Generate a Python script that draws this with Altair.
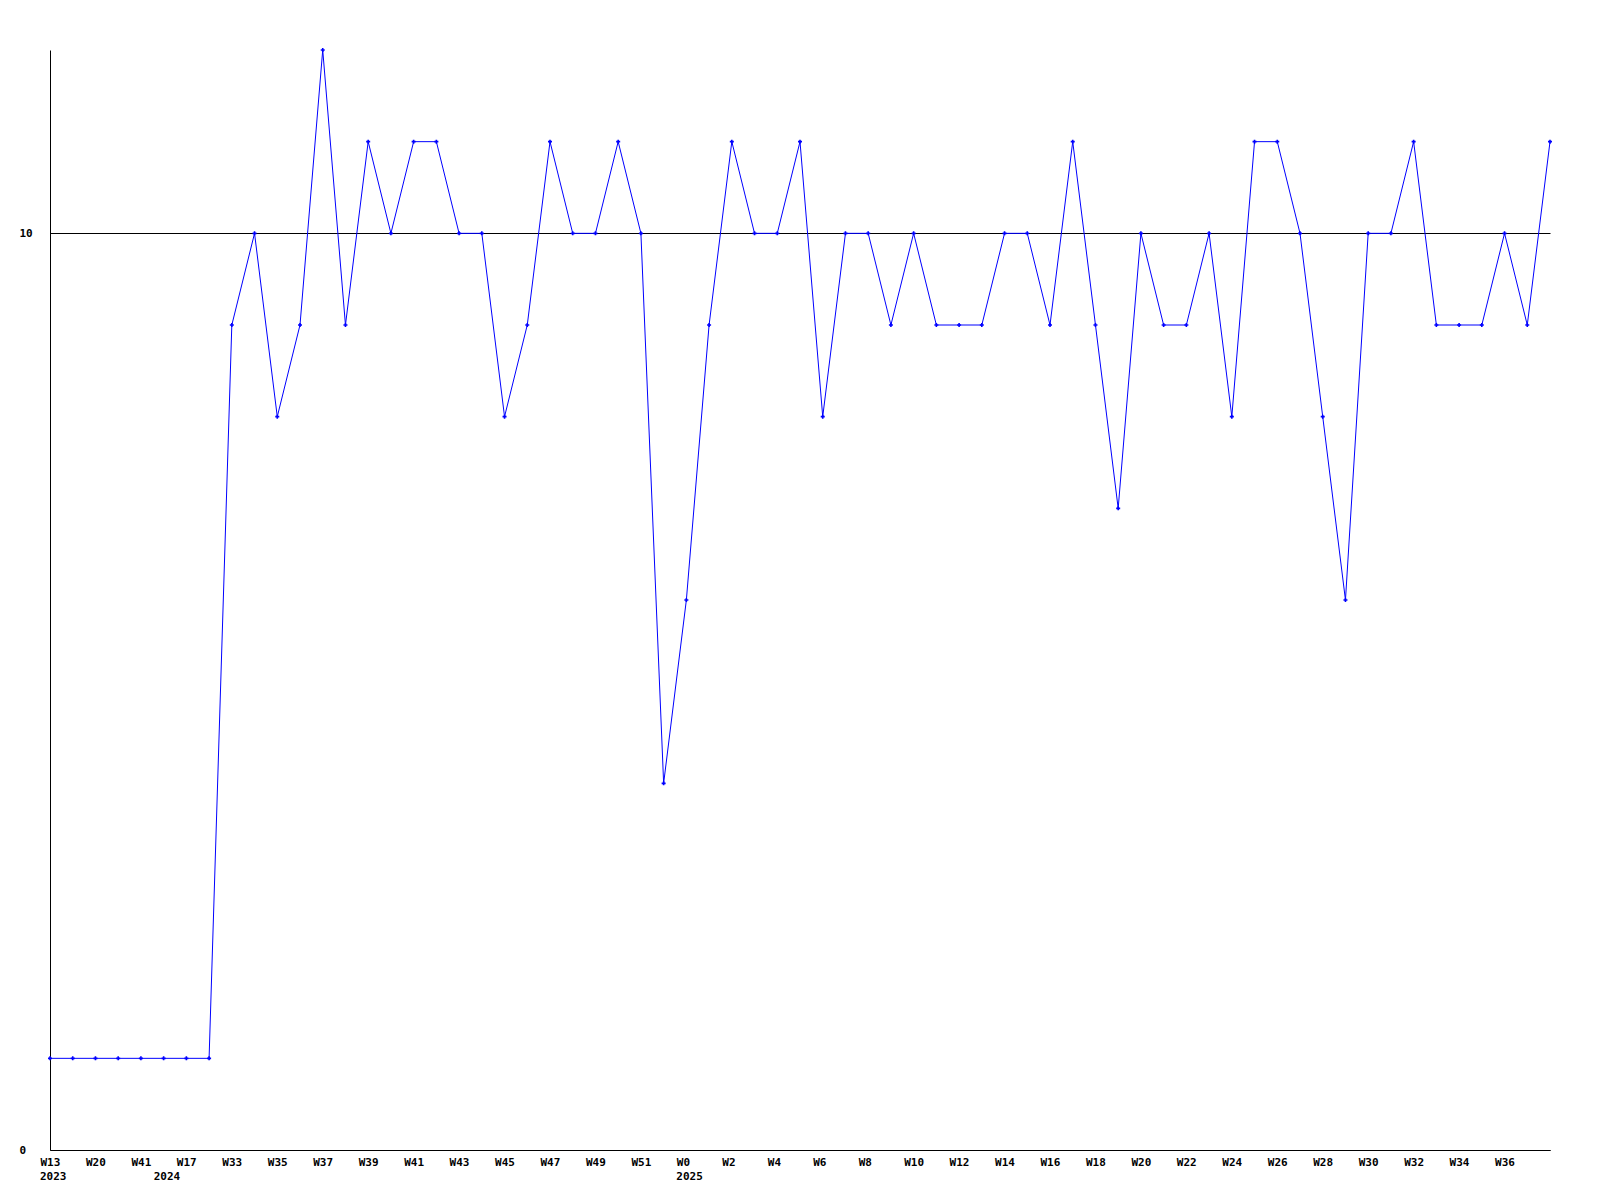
import json
import altair as alt
import pandas as pd

weeks = ["W13", "W17", "W20", "W35", "W41", "W2", "W17", "W25",
         "W33", "W34", "W35", "W36", "W37", "W38", "W39", "W40", "W41", "W42",
         "W43", "W44", "W45", "W46", "W47", "W48", "W49", "W50", "W51", "W52",
         "W0", "W1", "W2", "W3", "W4", "W5", "W6", "W7", "W8", "W9", "W10",
         "W11", "W12", "W13", "W14", "W15", "W16", "W17", "W18", "W19", "W20",
         "W21", "W22", "W23", "W24", "W25", "W26", "W27", "W28", "W29", "W30",
         "W31", "W32", "W33", "W34", "W35", "W36", "W37", "W38"]
values = [1, 1, 1, 1, 1, 1, 1, 1,
          9, 10, 8, 9, 12, 9, 11, 10, 11, 11, 10, 10, 8, 9, 11, 10, 10, 11, 10, 4,
          6, 9, 11, 10, 10, 11, 8, 10, 10, 9, 10, 9, 9, 9, 10, 10, 9, 11, 9, 7,
          10, 9, 9, 10, 8, 11, 11, 10, 8, 6, 10, 10, 11, 9, 9, 9, 10, 9, 11]
year_idx = [0, 5, 28]
year_labels = ["2023", "2024", "2025"]

df = pd.DataFrame({"i": list(range(len(values))), "v": values})
years_df = pd.DataFrame({"i": year_idx, "t": year_labels})

W, H = 1500, 1100
FONT = "DejaVu Sans Mono"
label_expr = json.dumps(weeks) + "[datum.value]"

x_scale = alt.Scale(domain=[0, len(values) - 1], nice=False, zero=False)
y_scale = alt.Scale(domain=[0, 12], nice=False)

x_axis = alt.Axis(values=list(range(0, 65, 2)), labelExpr=label_expr, title=None,
                  ticks=False, grid=False, labelAlign="left", labelOffset=-10,
                  labelPadding=6, labelFont=FONT, labelFontWeight="bold",
                  labelFontSize=11, labelColor="black", domainColor="black",
                  labelOverlap=False, labelFlush=False)
y_axis = alt.Axis(values=[0, 10], format="d", title=None, ticks=False, grid=True,
                  gridColor="black", gridOpacity=1, gridWidth=1,
                  labelAlign="left", labelPadding=31, labelFont=FONT,
                  labelFontWeight="bold", labelFontSize=11, labelColor="black",
                  domainColor="black")

base = alt.Chart(df)
line = base.mark_line(color="#0000ff", strokeWidth=1).encode(
    x=alt.X("i:Q", scale=x_scale, axis=x_axis),
    y=alt.Y("v:Q", scale=y_scale, axis=y_axis),
)
pts = base.mark_point(shape="cross", filled=True, size=16, color="#0000ff", opacity=1).encode(
    x=alt.X("i:Q", scale=x_scale),
    y=alt.Y("v:Q", scale=y_scale),
)
yrs = alt.Chart(years_df).mark_text(
    align="left", baseline="top", dx=-10, font=FONT, fontWeight="bold",
    fontSize=11, color="black"
).encode(
    x=alt.X("i:Q", scale=x_scale),
    y=alt.value(H + 21),
    text="t:N",
)

chart = alt.layer(line, pts, yrs).properties(
    width=W, height=H,
    background="white",
    autosize=alt.AutoSizeParams(type="none"),
    padding={"left": 42, "top": 42, "right": 30, "bottom": 40},
).configure_view(stroke=None, strokeWidth=0)

chart.save("out.html", embed_options={"renderer": "svg", "actions": False})
